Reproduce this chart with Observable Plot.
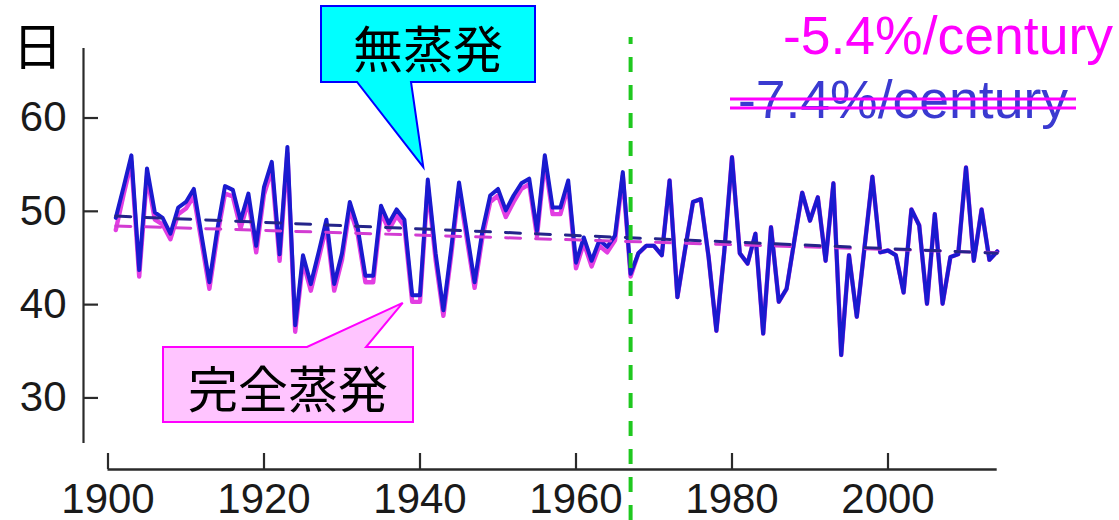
<!DOCTYPE html>
<html>
<head>
<meta charset="utf-8">
<script src="https://cdn.jsdelivr.net/npm/d3@7"></script>
<script src="https://cdn.jsdelivr.net/npm/@observablehq/plot@0.6"></script>
<style>
  html, body { margin: 0; padding: 0; background: #fff; }
  #chart { width: 1119px; height: 520px; position: relative; }
</style>
</head>
<body>
<div id="chart"></div>
<script>
// Annual count of days (日), 1901–2014
const startYear = 1901;

// 無蒸発 (no evaporation), 1901–2014
const noEvap = [
  49.3, 52.6, 56.0, 43.7, 54.6, 49.9, 49.3, 47.6, 50.4, 51.0,
  52.4, 47.4, 42.4, 48.0, 52.7, 52.3, 49.0, 51.9, 46.3, 52.6,
  55.3, 45.4, 56.9, 37.8, 45.3, 42.2, 45.6, 49.1, 42.2, 45.5,
  51.0, 48.3, 43.1, 43.1, 50.6, 48.7, 50.2, 49.1, 41.0, 41.0,
  53.4, 45.5, 39.4, 46.0, 53.1, 47.8, 42.4, 47.9, 51.7, 52.4,
  50.1, 51.7, 53.0, 53.5, 47.9, 56.0, 50.4, 50.4, 53.3, 44.5,
  47.2, 44.7, 46.9, 46.2, 47.4, 54.2, 43.3, 45.5, 46.3, 46.3,
  45.3, 53.3, 40.8, 46.0, 51.0, 51.3, 45.1, 37.2, 45.6, 55.8,
  45.5, 44.4, 47.6, 36.9, 48.3, 40.3, 41.7, 46.9, 52.0, 49.0,
  51.5, 44.7, 53.0, 34.6, 45.3, 38.7, 46.2, 53.7, 45.6, 45.8,
  45.3, 41.3, 50.2, 48.5, 40.1, 49.7, 40.1, 45.1, 45.4, 54.7,
  44.7, 50.2, 44.8, 45.7
];

// 完全蒸発 (full evaporation), 1901–1967; later years equal the series above
const fullEvapEarly = [
  48.0, 51.8, 55.3, 43.0, 53.8, 49.1, 48.6, 47.0, 49.7, 50.3,
  51.6, 46.7, 41.7, 47.3, 51.9, 51.6, 48.2, 51.1, 45.6, 51.8,
  54.5, 44.7, 56.2, 37.1, 44.6, 41.5, 44.9, 48.4, 41.5, 44.8,
  50.3, 47.6, 42.4, 42.4, 49.9, 48.0, 49.5, 48.4, 40.3, 40.3,
  52.7, 44.8, 38.8, 45.3, 52.4, 47.1, 41.8, 47.2, 51.0, 51.7,
  49.4, 51.0, 52.4, 52.9, 47.3, 55.4, 49.7, 49.7, 52.7, 43.9,
  46.6, 44.1, 46.3, 45.6, 46.9, 53.8, 43.0
];

const splitYear = 1967;          // green dashed divider
const xTicks = [1900, 1920, 1940, 1960, 1980, 2000];
const yTicks = [30, 40, 50, 60];

// Linear trends: rate in %/century, level at the middle of the period
const trendNames = ["完全蒸発", "無蒸発"];
const trendRates = [-5.4, -7.4];
const trendMidLevels = [47.0, 47.5];
const trendLabels = ["-5.4%/century", "-7.4%/century"];

// ---- tables built from the arrays ----
const blueData = noEvap.map((v, i) => ({year: startYear + i, value: v}));
const magentaData = fullEvapEarly.map((v, i) => ({year: startYear + i, value: v}))
  .concat(blueData.filter(d => d.year > splitYear));
const firstYear = startYear, lastYear = startYear + noEvap.length - 1;
const midYear = (firstYear + lastYear) / 2;
const trendLine = (k) => [firstYear, lastYear].map(year => ({
  year,
  value: trendMidLevels[k] * (1 + trendRates[k] / 100 * (year - midYear) / 100)
}));

// ---- layout ----
const W = 1119, H = 520;
const mL = 107.5, mR = 122.3, mT = 48, mB = 51;
const xDomain = [1900, 2014];
const yDomain = [22.33, 67.45];
const xs = Plot.scale({x: {domain: xDomain, range: [mL, W - mR]}});
const ys = Plot.scale({y: {domain: yDomain, range: [H - mB, mT]}});

const yAxisX = xs.invert(83);          // detached y-axis
const yTickEnd = xs.invert(98);
const yAxisBottom = ys.invert(443);
const xTickTop = ys.invert(453);

const BLUE = "#1a1acf", MAGENTA = "#e23ee2", AXIS = "#2a2a2a";
const numFont = "'Liberation Sans', Arial, Helvetica, sans-serif";

const chart = Plot.plot({
  width: W, height: H,
  marginLeft: mL, marginRight: mR, marginTop: mT, marginBottom: mB,
  x: {domain: xDomain, axis: null},
  y: {domain: yDomain, axis: null},
  style: {background: "#fff", fontFamily: numFont, overflow: "visible"},
  marks: [
    // y axis
    Plot.ruleX([yAxisX], {y1: yAxisBottom, y2: yDomain[1], stroke: AXIS, strokeWidth: 2.2}),
    Plot.ruleY(yTicks, {y: d => d, x1: yAxisX, x2: yTickEnd, stroke: AXIS, strokeWidth: 2.2}),
    Plot.text(yTicks, {x: yAxisX, y: d => d, text: d => `${d}`, textAnchor: "end", dx: -17,
      lineAnchor: "middle", fontSize: 42, fill: "#1a1a1a"}),
    // x axis
    Plot.ruleY([yDomain[0]], {x1: xDomain[0], x2: xDomain[1], stroke: AXIS, strokeWidth: 2.4}),
    Plot.ruleX(xTicks, {x: d => d, y1: yDomain[0], y2: xTickTop, stroke: AXIS, strokeWidth: 2.2}),
    Plot.text(xTicks, {x: d => d, y: yDomain[0], text: d => `${d}`, dy: 43, lineAnchor: "bottom",
      textAnchor: "middle", fontSize: 42, fill: "#1a1a1a"}),
    // series
    Plot.line(magentaData, {x: "year", y: "value", stroke: MAGENTA, strokeWidth: 4.4, strokeLinejoin: "round"}),
    Plot.line(blueData, {x: "year", y: "value", stroke: BLUE, strokeWidth: 4, strokeLinejoin: "round"}),
    // trends
    Plot.line(trendLine(0), {x: "year", y: "value", stroke: "#d23cd2", strokeWidth: 3, strokeDasharray: "15,15"}),
    Plot.line(trendLine(1), {x: "year", y: "value", stroke: "#24248a", strokeWidth: 3, strokeDasharray: "15,15"}),
    // divider
    Plot.ruleX([splitYear], {y1: ys.invert(H), y2: ys.invert(37), stroke: "#1fc81f", strokeWidth: 4,
      strokeDasharray: "15,13"})
  ]
});

document.getElementById("chart").appendChild(chart);

// ---- annotations ----
const svg = d3.select(chart);
const sx = chart.scale("x"), sy = chart.scale("y");
const ann = svg.append("g");
const cjk = "'Noto Sans CJK JP', 'Noto Sans CJK SC', sans-serif";

// unit label
ann.append("text").attr("x", 37.5).attr("y", 42.5)
  .attr("text-anchor", "middle").attr("dominant-baseline", "central")
  .attr("font-family", cjk).attr("font-size", 50).attr("fill", "#000").text("日");

// callout for 無蒸発, pointing at the 1941 peak
const peak = blueData.find(d => d.year === 1941);
const t1 = [sx.apply(peak.year) - 4, sy.apply(peak.value) - 12];
ann.append("path")
  .attr("d", `M321,6 L535,6 L535,82 L411,82 L${t1[0]},${t1[1]} L357,82 L321,82 Z`)
  .attr("fill", "#00ffff").attr("stroke", "#0000ff").attr("stroke-width", 2);
ann.append("text").attr("x", 428).attr("y", 46)
  .attr("text-anchor", "middle").attr("dominant-baseline", "central")
  .attr("font-family", cjk).attr("font-size", 50).attr("fill", "#000").text(trendNames[1]);

// callout for 完全蒸発, pointing at the 1939 trough
const low = magentaData.find(d => d.year === 1939);
const t2 = [sx.apply(low.year) - 9, sy.apply(low.value) + 1.5];
ann.append("path")
  .attr("d", `M163,347 L307,347 L${t2[0]},${t2[1]} L366,347 L413,347 L413,422 L163,422 Z`)
  .attr("fill", "#ffc4ff").attr("stroke", "#ff00ff").attr("stroke-width", 2);
ann.append("text").attr("x", 288).attr("y", 386)
  .attr("text-anchor", "middle").attr("dominant-baseline", "central")
  .attr("font-family", cjk).attr("font-size", 50).attr("fill", "#000").text(trendNames[0]);

// trend rates
ann.append("text").attr("x", 1113).attr("y", 54).attr("text-anchor", "end")
  .attr("font-family", numFont).attr("font-size", 53.5).attr("fill", "#ff00ff").text(trendLabels[0]);
ann.append("text").attr("x", 1068).attr("y", 118).attr("text-anchor", "end")
  .attr("font-family", numFont).attr("font-size", 53.5).attr("fill", "#3a3ad0").text(trendLabels[1]);
// double strike-through over the superseded rate
[99, 108].forEach(y => ann.append("line")
  .attr("x1", 730).attr("x2", 1076).attr("y1", y).attr("y2", y)
  .attr("stroke", "#ff00ff").attr("stroke-width", 3));
</script>
</body>
</html>
